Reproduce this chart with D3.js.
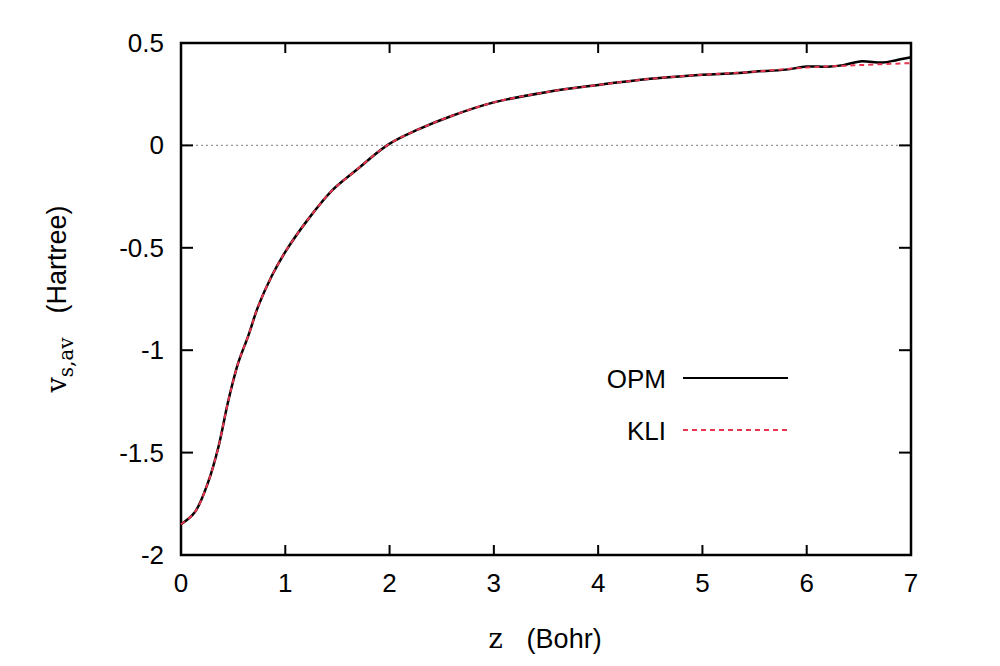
<!DOCTYPE html>
<html><head><meta charset="utf-8">
<script src="https://cdn.jsdelivr.net/npm/d3@7"></script>
<style>body{margin:0;background:#fff}</style></head>
<body><svg id="c" width="1000" height="666"></svg>
<script>
const xTicks=[0,1,2,3,4,5,6,7];
const yTicks=[-2,-1.5,-1,-0.5,0,0.5];
const yTickLabels=["-2","-1.5","-1","-0.5","0","0.5"];
const opmZ=[0,0.134,0.26,0.36,0.45,0.55,0.645,0.74,0.87,1,1.22,1.445,1.67,1.99,2.275,2.6,3,3.5,4,4.5,5,5.3,5.5,5.8,6,6.2,6.35,6.51,6.73,6.85,7];
const opmV=[-1.85,-1.79,-1.645,-1.47,-1.255,-1.06,-0.93,-0.786,-0.638,-0.52,-0.36,-0.222,-0.125,0.005,0.078,0.145,0.21,0.26,0.295,0.325,0.345,0.352,0.36,0.37,0.385,0.384,0.392,0.41,0.405,0.415,0.43];
const kliZ=[0,0.134,0.26,0.36,0.45,0.55,0.645,0.74,0.87,1,1.22,1.445,1.67,1.99,2.275,2.6,3,3.5,4,4.5,5,5.5,6,6.5,7];
const kliV=[-1.85,-1.79,-1.645,-1.47,-1.255,-1.06,-0.93,-0.786,-0.638,-0.52,-0.36,-0.222,-0.125,0.005,0.078,0.145,0.21,0.26,0.295,0.325,0.345,0.36,0.38,0.392,0.402];
const svg=d3.select("#c");
const x=d3.scaleLinear().domain([0,7]).range([181,911]);
const y=d3.scaleLinear().domain([-2,0.5]).range([555,43]);
const font="Liberation Sans, Arial, sans-serif";
svg.append("line").attr("x1",x(0)).attr("x2",x(7)).attr("y1",y(0)).attr("y2",y(0)).attr("stroke","#999").attr("stroke-width",1.2).attr("stroke-dasharray","2,3");
const g=svg.append("g");
xTicks.forEach(t=>{
 g.append("line").attr("x1",x(t)).attr("x2",x(t)).attr("y1",555).attr("y2",545).attr("stroke","#000").attr("stroke-width",2);
 g.append("line").attr("x1",x(t)).attr("x2",x(t)).attr("y1",43).attr("y2",53).attr("stroke","#000").attr("stroke-width",2);
 g.append("text").attr("x",x(t)).attr("y",592).attr("text-anchor","middle").attr("font-family",font).attr("font-size",26).text(t);
});
yTicks.forEach((t,i)=>{
 g.append("line").attr("x1",181).attr("x2",193).attr("y1",y(t)).attr("y2",y(t)).attr("stroke","#000").attr("stroke-width",2);
 g.append("line").attr("x1",911).attr("x2",899).attr("y1",y(t)).attr("y2",y(t)).attr("stroke","#000").attr("stroke-width",2);
 g.append("text").attr("x",164).attr("y",y(t)+9).attr("text-anchor","end").attr("font-family",font).attr("font-size",26).text(yTickLabels[i]);
});
svg.append("rect").attr("x",181).attr("y",43).attr("width",730).attr("height",512).attr("fill","none").attr("stroke","#000").attr("stroke-width",2.5);
const line=d3.line().x(d=>x(d[0])).y(d=>y(d[1])).curve(d3.curveCatmullRom.alpha(0.5));
svg.append("path").datum(opmZ.map((z,i)=>[z,opmV[i]])).attr("d",line).attr("fill","none").attr("stroke","#000").attr("stroke-width",2.5);
svg.append("path").datum(kliZ.map((z,i)=>[z,kliV[i]])).attr("d",line).attr("fill","none").attr("stroke","#e8344e").attr("stroke-width",2).attr("stroke-dasharray","5,4");
svg.append("text").attr("x",666).attr("y",388).attr("text-anchor","end").attr("font-family",font).attr("font-size",26).text("OPM");
svg.append("line").attr("x1",683).attr("x2",788).attr("y1",378).attr("y2",378).attr("stroke","#000").attr("stroke-width",2);
svg.append("text").attr("x",666).attr("y",440).attr("text-anchor","end").attr("font-family",font).attr("font-size",26).text("KLI");
svg.append("line").attr("x1",683).attr("x2",788).attr("y1",430).attr("y2",430).attr("stroke","#e8344e").attr("stroke-width",2).attr("stroke-dasharray","5,4");
const xl=svg.append("text").attr("x",545).attr("y",648).attr("text-anchor","middle").attr("font-size",27).attr("font-family",font);
xl.append("tspan").attr("font-family","DejaVu Serif, serif").text("z");
xl.append("tspan").attr("dx",24).text("(Bohr)");
const yl=svg.append("text").attr("transform","translate(66,299) rotate(-90)").attr("text-anchor","middle").attr("font-size",27).attr("font-family",font);
yl.append("tspan").attr("font-family","DejaVu Serif, serif").text("v");
yl.append("tspan").attr("font-family","DejaVu Serif, serif").attr("font-size",20).attr("dy",7).text("s,av");
yl.append("tspan").attr("dy",-7).attr("dx",24).text("(Hartree)");
</script></body></html>
